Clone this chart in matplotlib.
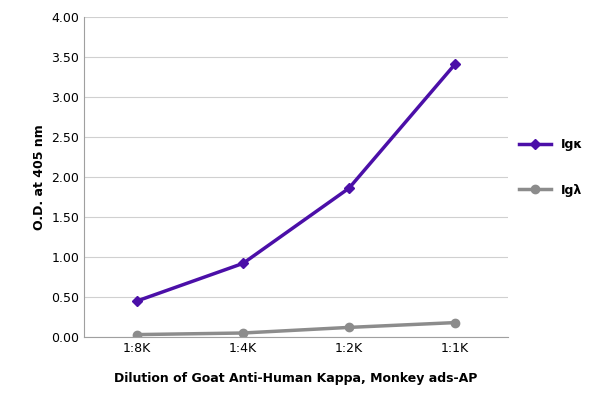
import matplotlib
matplotlib.use("Agg")
import matplotlib.pyplot as plt

categories = ["1:8K", "1:4K", "1:2K", "1:1K"]
igk = [0.45, 0.92, 1.86, 3.41]
igl = [0.03, 0.05, 0.12, 0.18]

fig = plt.figure(figsize=(6, 4.09), dpi=100)
ax = fig.add_axes([84/600, 72/409, 424/600, 320/409])
x = range(len(categories))
ax.plot(x, igk, color="#4b0fa8", lw=2.5, marker="D", ms=5, label="Igκ")
ax.plot(x, igl, color="#8c8c8c", lw=2.5, marker="o", ms=6, label="Igλ")
ax.set_xlim(-0.5, 3.5)
ax.set_ylim(0, 4)
ax.set_yticks([i*0.5 for i in range(9)])
ax.set_yticklabels([f"{i*0.5:.2f}" for i in range(9)], fontsize=9)
ax.set_xticks(list(x))
ax.set_xticklabels(categories, fontsize=9)
ax.grid(axis="y", color="#d0d0d0", lw=0.8)
ax.set_axisbelow(True)
for s in ["top", "right"]:
    ax.spines[s].set_visible(False)
ax.spines["left"].set_color("#a0a0a0")
ax.spines["bottom"].set_color("#a0a0a0")
ax.tick_params(length=0)
ax.set_ylabel("O.D. at 405 nm", fontsize=9, fontweight="bold")
ax.set_xlabel("Dilution of Goat Anti-Human Kappa, Monkey ads-AP", fontsize=9, fontweight="bold", labelpad=12)
ax.legend(loc="center left", bbox_to_anchor=(1.0, 0.53), frameon=False,
          labelspacing=2.6, handlelength=2.5, prop={"weight": "bold", "size": 9})
fig.savefig("out.png", dpi=100)
